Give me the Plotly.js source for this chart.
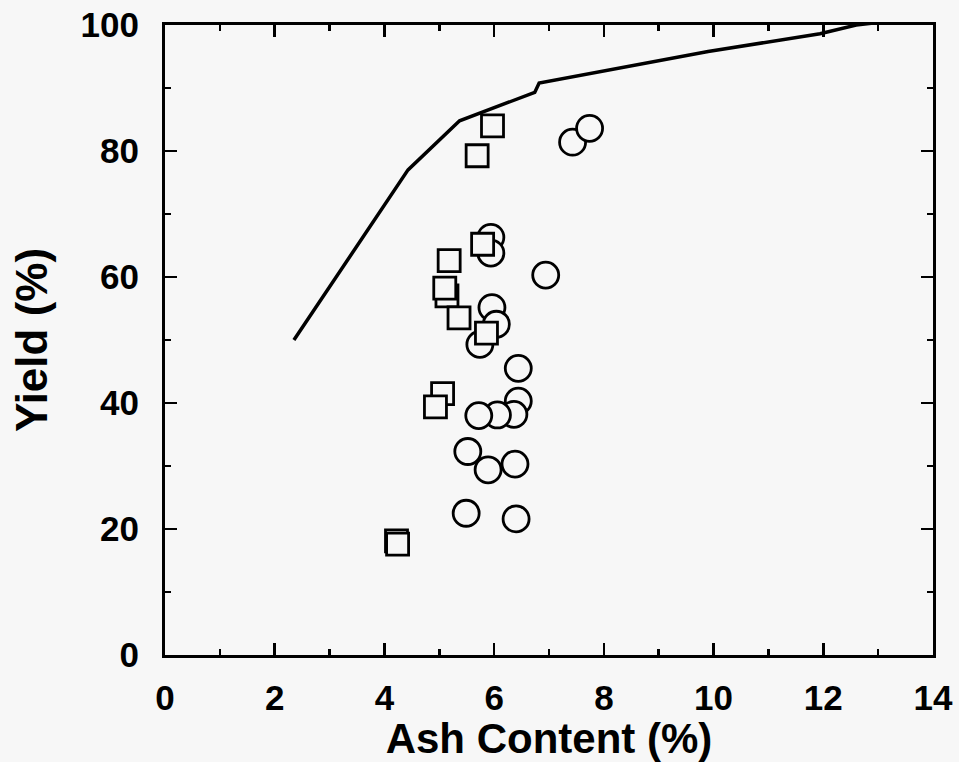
<!DOCTYPE html>
<html>
<head>
<meta charset="utf-8">
<script src="https://cdn.plot.ly/plotly-3.0.1.min.js"></script>
<style>html,body{margin:0;padding:0;background:#f7f7f7;}#chart{width:959px;height:762px;}</style>
</head>
<body>
<div id="chart"></div>
<script>
// Curve (theoretical washability line)
const curveAsh   = [2.35, 4.43, 5.37, 6.74, 6.82, 8.04, 9.9, 11.94, 12.6, 12.9];
const curveYield = [50, 77, 84.8, 89.3, 90.8, 92.8, 95.8, 98.6, 100, 100.3];

// Circle series
const circleAsh   = [7.43, 7.74, 5.94, 5.94, 6.94, 5.96, 6.04, 5.74, 6.44, 6.44, 6.36, 6.06, 5.72, 5.52, 5.89, 6.38, 5.49, 6.40];
const circleYield = [81.4, 83.6, 66.3, 63.8, 60.3, 55.15, 52.5, 49.3, 45.5, 40.3, 38.2, 38.1, 38.0, 32.3, 29.4, 30.3, 22.5, 21.6];

// Square series
const squareAsh   = [5.97, 5.69, 5.79, 5.18, 5.14, 5.10, 5.36, 5.86, 5.06, 4.93, 4.22, 4.24];
const squareYield = [84.0, 79.25, 65.2, 62.6, 57.0, 58.25, 53.5, 51.1, 41.5, 39.4, 18.1, 17.6];

const xTicks = [0, 2, 4, 6, 8, 10, 12, 14];
const yTicks = [0, 20, 40, 60, 80, 100];

const fontFam = 'Arial, "Liberation Sans", Helvetica, sans-serif';

const traces = [
  {x: curveAsh, y: curveYield, mode: 'lines', type: 'scatter',
   line: {color: '#000', width: 3.5}, cliponaxis: true, hoverinfo: 'skip'},
  {x: circleAsh, y: circleYield, mode: 'markers', type: 'scatter',
   marker: {symbol: 'circle', size: 26, color: '#f7f7f7', line: {color: '#000', width: 2.8}}},
  {x: squareAsh, y: squareYield, mode: 'markers', type: 'scatter',
   marker: {symbol: 'square', size: 22, color: '#f7f7f7', line: {color: '#000', width: 2.8}}}
];

const axisCommon = {
  showline: true, linecolor: '#000', linewidth: 3, mirror: 'ticks',
  ticks: 'inside', ticklen: 12, tickwidth: 2.5, tickcolor: '#000',
  showgrid: false, zeroline: false,
  tickfont: {family: fontFam, size: 35, color: '#000', weight: 'bold'}
};

const layout = {
  width: 959, height: 762,
  paper_bgcolor: '#f7f7f7', plot_bgcolor: '#f7f7f7',
  showlegend: false,
  margin: {l: 165, r: 26, t: 25, b: 107},
  xaxis: Object.assign({}, axisCommon, {
    range: [0, 14], tickvals: xTicks, ticktext: xTicks.map(String),
    ticklabelstandoff: 10,
    minor: {dtick: 1, tick0: 0, ticks: 'inside', ticklen: 6, tickwidth: 2.5, tickcolor: '#000'},
    title: {text: 'Ash Content (%)', font: {family: fontFam, size: 42, color: '#000', weight: 'bold'}, standoff: 2}
  }),
  yaxis: Object.assign({}, axisCommon, {
    range: [0, 100], tickvals: yTicks, ticktext: yTicks.map(String),
    ticklabelstandoff: 16,
    minor: {dtick: 10, tick0: 0, ticks: 'inside', ticklen: 6, tickwidth: 2.5, tickcolor: '#000'},
    title: {text: 'Yield (%)', font: {family: fontFam, size: 44, color: '#000', weight: 'bold'}, standoff: 20}
  })
};

Plotly.newPlot('chart', traces, layout, {displayModeBar: false, staticPlot: true});
</script>
</body>
</html>
